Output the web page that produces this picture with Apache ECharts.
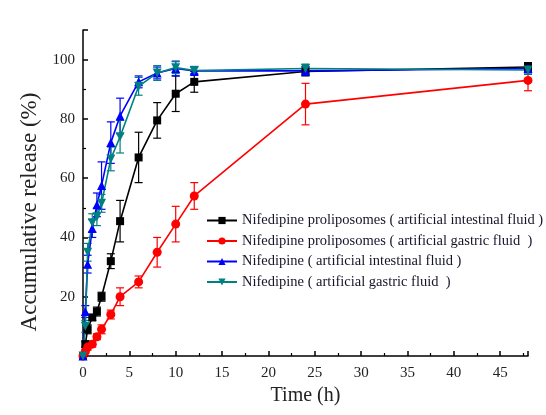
<!DOCTYPE html>
<html>
<head>
<meta charset="utf-8">
<script src="https://cdn.jsdelivr.net/npm/echarts@6/dist/echarts.min.js"></script>
<style>
html,body{margin:0;padding:0;background:#fff;}
#chart{width:546px;height:415px;}
</style>
</head>
<body>
<div id="chart"></div>
<script>
// ---- data ----
const times = [0, 0.25, 0.5, 1, 1.5, 2, 3, 4, 6, 8, 10, 12, 24, 48];
const seriesNames = [
  'Nifedipine proliposomes ( artificial intestinal fluid )',
  'Nifedipine proliposomes ( artificial gastric fluid  )',
  'Nifedipine ( artificial intestinal fluid )',
  'Nifedipine ( artificial gastric fluid  )'
];
const prolipoIntestinal = [0, 4, 9, 13, 15, 20, 32, 45.5, 67, 79.5, 88.5, 92.5, 96, 97.5];
const prolipoIntestinalErr = [0, 1, 1.5, 1, 1.5, 1.5, 2.5, 7, 8.5, 6, 6, 3.5, 1.5, 1.5];
const prolipoGastric = [0, 1.5, 3, 4, 6.5, 9, 14, 20, 25, 35, 44.5, 54, 85, 93];
const prolipoGastricErr = [0, 0.5, 1, 1, 1, 1.5, 1.5, 3, 2, 5, 6, 4.5, 7, 3.5];
const nifIntestinal = [0, 15, 31, 43, 51, 57.5, 72, 81, 92.5, 95.5, 97, 96.2, 96.2, 97];
const nifIntestinalErr = [0, 2, 3, 3, 4, 8, 7, 6, 2, 2, 2.5, 1.5, 1.5, 1.5];
const nifGastric = [0, 10, 35, 45, 47, 51.5, 66.5, 74, 91, 95.5, 97.3, 96.3, 97, 96.5];
const nifGastricErr = [0, 2, 3, 3, 3, 3, 4, 5.5, 3, 2.5, 2, 1, 1.5, 1.5];
const xTicks = [0, 5, 10, 15, 20, 25, 30, 35, 40, 45];
const yTicks = [20, 40, 60, 80, 100];

const colors = ['#000000', '#ff0000', '#0000ff', '#008080'];
const symbols = ['rect', 'circle', 'triangle', 'path://M0,0 L10,0 L5,9 Z'];
const symbolSizes = [8, 9, 9, 9];
const values = [prolipoIntestinal, prolipoGastric, nifIntestinal, nifGastric];
const errs = [prolipoIntestinalErr, prolipoGastricErr, nifIntestinalErr, nifGastricErr];

const FONT = 'Liberation Serif';

function errRender(color) {
  return function (params, api) {
    const x = api.value(0), y = api.value(1), e = api.value(2);
    if (!e) return null;
    const top = api.coord([x, y + e]);
    const bot = api.coord([x, y - e]);
    const w = 4;
    const st = { stroke: color, lineWidth: 1.2 };
    return {
      type: 'group',
      children: [
        { type: 'line', shape: { x1: top[0], y1: top[1], x2: bot[0], y2: bot[1] }, style: st },
        { type: 'line', shape: { x1: top[0] - w, y1: top[1], x2: top[0] + w, y2: top[1] }, style: st },
        { type: 'line', shape: { x1: bot[0] - w, y1: bot[1], x2: bot[0] + w, y2: bot[1] }, style: st }
      ]
    };
  };
}

const series = [];
for (let i = 0; i < 4; i++) {
  series.push({
    type: 'custom',
    name: seriesNames[i] + ' err',
    renderItem: errRender(colors[i]),
    data: times.map((t, k) => [t, values[i][k], errs[i][k]]),
    encode: { x: 0, y: 1 },
    z: 1,
    silent: true
  });
}
for (let i = 0; i < 4; i++) {
  series.push({
    type: 'line',
    name: seriesNames[i],
    data: times.map((t, k) => [t, values[i][k]]),
    color: colors[i],
    lineStyle: { width: 1.6, color: colors[i] },
    itemStyle: { color: colors[i] },
    symbol: symbols[i],
    symbolSize: symbolSizes[i],
    showSymbol: true,
    z: 3,
    animation: false
  });
}

const chart = echarts.init(document.getElementById('chart'), null, { renderer: 'canvas' });
chart.setOption({
  animation: false,
  backgroundColor: '#ffffff',
  grid: { left: 83, right: 18, top: 30, bottom: 59 },
  legend: {
    data: seriesNames,
    orient: 'vertical',
    left: 201,
    top: 208,
    itemWidth: 30,
    itemHeight: 9,
    itemGap: 5.5,
    textStyle: { fontFamily: FONT, fontSize: 14.5, color: '#15152a', lineHeight: 14 }
  },
  xAxis: {
    type: 'value',
    min: 0,
    max: 48,
    interval: 5,
    name: 'Time (h)',
    nameLocation: 'middle',
    nameGap: 29,
    nameTextStyle: { fontFamily: FONT, fontSize: 20, color: '#222' },
    axisLine: { show: true, lineStyle: { color: '#000', width: 1.5 } },
    axisTick: { show: true, inside: true, length: 5, lineStyle: { color: '#000', width: 1.5 } },
    minorTick: { show: true, splitNumber: 2, length: 3, lineStyle: { color: '#000', width: 1.2 } },
    axisLabel: {
      fontFamily: FONT, fontSize: 15, color: '#222', margin: 10,
      showMaxLabel: false,
      formatter: v => (xTicks.indexOf(v) >= 0 ? String(v) : '')
    },
    splitLine: { show: false }
  },
  yAxis: {
    type: 'value',
    min: 0,
    max: 110,
    interval: 20,
    name: 'Accumulative release (%)',
    nameLocation: 'middle',
    nameGap: 38,
    nameTextStyle: { fontFamily: FONT, fontSize: 23, color: '#222', padding: [0, 38, 0, 0] },
    axisLine: { show: true, lineStyle: { color: '#000', width: 1.5 } },
    axisTick: { show: true, inside: true, length: 5, lineStyle: { color: '#000', width: 1.5 } },
    minorTick: { show: true, splitNumber: 2, length: 3, lineStyle: { color: '#000', width: 1.2 } },
    axisLabel: {
      fontFamily: FONT, fontSize: 15, color: '#222', margin: 8,
      showMinLabel: false, showMaxLabel: false,
      formatter: v => (yTicks.indexOf(v) >= 0 ? String(v) : '')
    },
    splitLine: { show: false }
  },
  series: series
});
</script>
</body>
</html>
